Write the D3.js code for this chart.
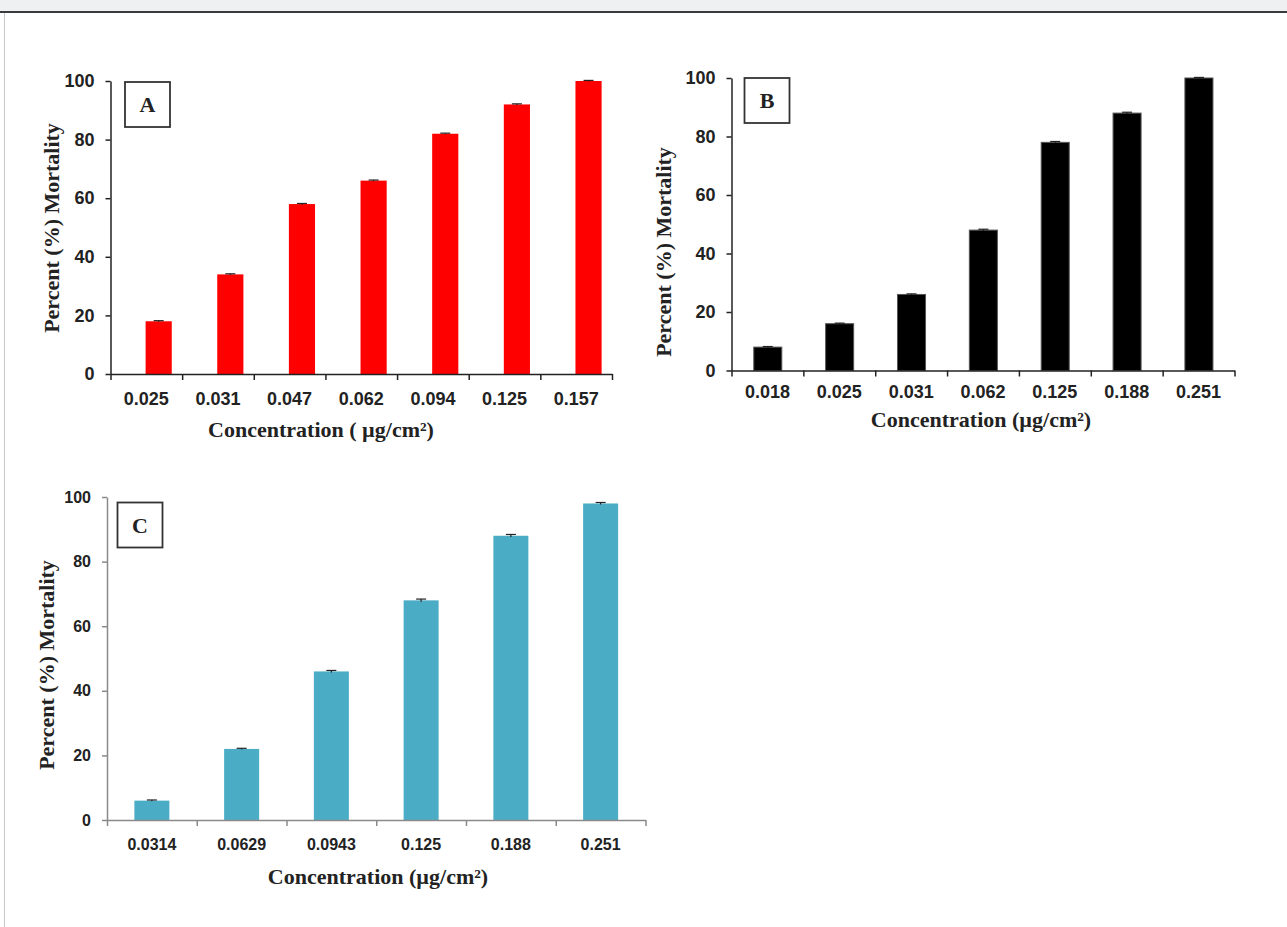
<!DOCTYPE html>
<html>
<head>
<meta charset="utf-8">
<script src="https://cdn.jsdelivr.net/npm/d3@7"></script>
<style>
  body { margin: 0; background: #fff; }
  svg { display: block; }
</style>
</head>
<body>
<svg id="chart" width="1287" height="927"></svg>
<script>
const yTicks = [0, 20, 40, 60, 80, 100]

// panel A
const concA = ['0.025', '0.031', '0.047', '0.062', '0.094', '0.125', '0.157']
const mortA = [18, 34, 58, 66, 82, 92, 100]
const errA = [0.2, 0.2, 0.2, 0.2, 0.2, 0.2, 0.2]

// panel B
const concB = ['0.018', '0.025', '0.031', '0.062', '0.125', '0.188', '0.251']
const mortB = [8, 16, 26, 48, 78, 88, 100]
const errB = [0.2, 0.2, 0.2, 0.3, 0.3, 0.3, 0.2]

// panel C
const concC = ['0.0314', '0.0629', '0.0943', '0.125', '0.188', '0.251']
const mortC = [6, 22, 46, 68, 88, 98]
const errC = [0.2, 0.2, 0.3, 0.4, 0.4, 0.3]

const svg = d3.select('#chart')

// page frame: grey strip on top, dark rule, faint left edge
svg.append('rect').attr('x', 0).attr('y', 0).attr('width', 1287).attr('height', 11).attr('fill', '#eef0f2')
svg.append('line').attr('x1', 0).attr('x2', 1287).attr('y1', 12).attr('y2', 12)
    .attr('stroke', '#3a3a3a').attr('stroke-width', 2)
svg.append('line').attr('x1', 4.5).attr('x2', 4.5).attr('y1', 13).attr('y2', 927)
    .attr('stroke', '#c8c8c8').attr('stroke-width', 1)

const sans = '"Liberation Sans", Arial, sans-serif'
const serif = '"Liberation Serif", "Times New Roman", serif'

function panel(cfg) {
    const n = cfg.cats.length
    const x = d3.scaleBand().domain(cfg.cats).range([cfg.left, cfg.right])
    const y = d3.scaleLinear().domain([0, 100]).range([cfg.bottom, cfg.top])
    const bw = x.bandwidth()
    const data = cfg.cats.map((c, i) => ({ c, v: cfg.values[i], e: cfg.errors[i] }))
    const mid = d => x(d.c) + bw * (cfg.barOffset + cfg.barWidth / 2)

    const g = svg.append('g')

    g.append('g').selectAll('rect')
        .data(data)
        .join('rect')
        .attr('x', d => x(d.c) + bw * cfg.barOffset)
        .attr('width', bw * cfg.barWidth)
        .attr('y', d => y(d.v))
        .attr('height', d => y(0) - y(d.v))
        .attr('fill', cfg.color)
        .attr('stroke', cfg.barStroke || 'none')
        .attr('stroke-width', 1)

    // error bars (tiny)
    const eb = g.append('g').attr('stroke', '#222').attr('stroke-width', 1.2)
    eb.selectAll('line.w')
        .data(data)
        .join('line')
        .attr('class', 'w')
        .attr('x1', mid).attr('x2', mid)
        .attr('y1', d => y(d.v - d.e))
        .attr('y2', d => y(d.v + d.e))
    eb.selectAll('line.cap')
        .data(data)
        .join('line')
        .attr('class', 'cap')
        .attr('x1', d => mid(d) - 5)
        .attr('x2', d => mid(d) + 5)
        .attr('y1', d => y(d.v + d.e))
        .attr('y2', d => y(d.v + d.e))

    // y axis
    const gy = g.append('g')
        .attr('transform', `translate(${cfg.left},0)`)
        .call(d3.axisLeft(y).tickValues(yTicks).tickSize(5).tickSizeOuter(0).tickPadding(11))
    gy.selectAll('path, line').attr('stroke', cfg.axisColor).attr('stroke-width', 1.5)
    gy.selectAll('text')
        .attr('font-family', sans).attr('font-weight', 'bold')
        .attr('font-size', cfg.tickFont).attr('fill', '#222')

    // x axis: Excel style ticks between categories
    const xb = d3.scaleLinear().domain([0, n]).range(x.range())
    const gx = g.append('g')
        .attr('transform', `translate(0,${cfg.bottom})`)
        .call(d3.axisBottom(xb).tickValues(d3.range(n + 1)).tickFormat('').tickSize(6).tickSizeOuter(0))
    gx.selectAll('path, line').attr('stroke', cfg.axisColor).attr('stroke-width', 1.5)

    const gl = g.append('g')
        .attr('transform', `translate(0,${cfg.bottom})`)
        .call(d3.axisBottom(x).tickSize(0).tickPadding(cfg.labelPad))
    gl.select('.domain').remove()
    gl.selectAll('text')
        .attr('font-family', sans).attr('font-weight', 'bold')
        .attr('font-size', cfg.tickFont).attr('fill', '#222')

    // titles
    g.append('text')
        .attr('x', cfg.xTitle[0]).attr('y', cfg.xTitle[1]).attr('dy', '0.33em')
        .attr('text-anchor', 'middle')
        .attr('font-family', serif).attr('font-weight', 'bold').attr('font-size', 22)
        .attr('fill', '#222')
        .text(cfg.xLabel)

    g.append('text')
        .attr('transform', `translate(${cfg.yTitle[0]},${cfg.yTitle[1]}) rotate(-90)`)
        .attr('dy', '0.33em')
        .attr('text-anchor', 'middle')
        .attr('font-family', serif).attr('font-weight', 'bold').attr('font-size', 22)
        .attr('fill', '#222')
        .text('Percent (%) Mortality')

    // panel letter box
    const [bx, by, bs] = cfg.box
    g.append('rect')
        .attr('x', bx).attr('y', by).attr('width', bs).attr('height', bs)
        .attr('fill', '#fff').attr('stroke', '#333').attr('stroke-width', 1.8)
    g.append('text')
        .attr('x', bx + bs / 2).attr('y', by + bs / 2).attr('dy', '0.35em')
        .attr('text-anchor', 'middle')
        .attr('font-family', serif).attr('font-weight', 'bold').attr('font-size', 22)
        .attr('fill', '#222')
        .text(cfg.letter)
}

panel({
    cats: concA, values: mortA, errors: errA,
    left: 110.5, right: 612, top: 81, bottom: 374,
    color: '#ff0000', axisColor: '#222',
    barOffset: 0.49, barWidth: 0.365,
    tickFont: 18, labelPad: 18,
    xLabel: 'Concentration ( µg/cm²)', xTitle: [321, 430], yTitle: [52, 228],
    letter: 'A', box: [125, 82, 45]
})

panel({
    cats: concB, values: mortB, errors: errB,
    left: 731.5, right: 1234.5, top: 78, bottom: 370.5,
    color: '#000', barStroke: '#555', axisColor: '#222',
    barOffset: 0.31, barWidth: 0.39,
    tickFont: 18, labelPad: 15,
    xLabel: 'Concentration (µg/cm²)', xTitle: [981, 420], yTitle: [664, 252],
    letter: 'B', box: [744.5, 78, 45]
})

panel({
    cats: concC, values: mortC, errors: errC,
    left: 107, right: 645.5, top: 497, bottom: 820,
    color: '#4bacc6', axisColor: '#8a8a8a',
    barOffset: 0.305, barWidth: 0.39,
    tickFont: 16, labelPad: 19,
    xLabel: 'Concentration (µg/cm²)', xTitle: [378, 877], yTitle: [47, 665],
    letter: 'C', box: [117.5, 502.5, 45]
})
</script>
</body>
</html>
